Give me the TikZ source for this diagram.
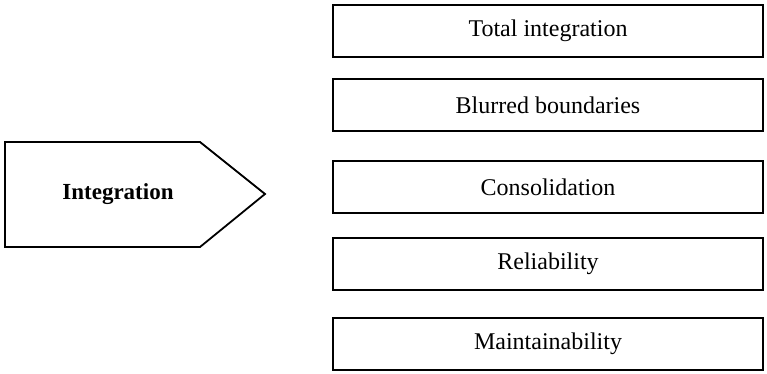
\documentclass[tikz,border=0pt]{standalone}
\usepackage{fontspec}
\setmainfont{Liberation Serif}

\begin{document}
\begin{tikzpicture}[x=0.5pt, y=-0.5pt,
		item/.style={draw, line width=0.9pt, minimum width=215pt, minimum height=26pt, inner sep=0pt, font=\fontsize{12}{14}\selectfont}]
		\useasboundingbox (0,0) rectangle (767,374);

		\node[item] (total) at (548,31) {Total integration};
		\node[item] (blur) at (548,105) {Blurred boundaries};
		\node[item] (cons) at (548,187) {Consolidation};
		\node[item] (rel) at (548,264) {Reliability};
		\node[item] (maint) at (548,344) {Maintainability};

		\draw[line width=0.9pt, line join=miter]
		(5,142) -- (200,142) -- (265,194) -- (200,247) -- (5,247) -- cycle;
		\node[font=\fontsize{11.5}{14}\selectfont\bfseries] (integ) at (118,194) {Integration};

	\end{tikzpicture}
\end{document}
